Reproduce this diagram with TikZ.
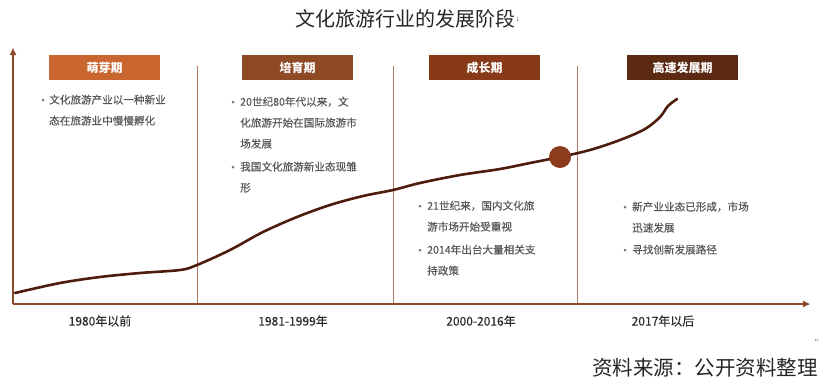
\documentclass[tikz,border=0pt]{standalone}
\usepackage{fontspec}
\usetikzlibrary{arrows.meta}
\newfontfamily\cjk{Noto Sans CJK SC}
\newfontfamily\cjkm{Noto Sans CJK SC}[FakeBold=0.4]
\newfontfamily\dejavu{DejaVu Sans}
\definecolor{axisc}{RGB}{140,72,40}
\definecolor{divc}{RGB}{178,122,92}
\definecolor{hA}{RGB}{201,102,48}
\definecolor{hB}{RGB}{142,74,36}
\definecolor{hC}{RGB}{136,58,24}
\definecolor{hD}{RGB}{92,42,18}
\definecolor{curvec}{RGB}{78,28,12}
\definecolor{dotc}{RGB}{140,60,28}
\definecolor{bodyc}{RGB}{88,88,88}
\definecolor{labc}{RGB}{45,45,45}
\begin{document}
\begin{tikzpicture}[x=1pt,y=-1pt,
  axisline/.style={draw=axisc,line width=2pt,-{Triangle[length=7pt,width=6pt]}},
  divline/.style={draw=divc,line width=1pt},
  hdr/.style={minimum width=111pt,minimum height=25pt,inner sep=0pt,text=white,font=\cjk\bfseries\fontsize{12}{14}\selectfont},
  body/.style={anchor=north west,inner sep=0pt,align=left,text=bodyc,font=\cjkm\fontsize{10.6}{21}\selectfont},
  bul/.style={circle,fill=bodyc!80,inner sep=0pt,minimum size=3pt},
  lab/.style={inner sep=0pt,text=labc,font=\cjkm\fontsize{12}{14}\selectfont},
  curve/.style={draw=curvec,line width=2.6pt,line cap=round,line join=round}]
\useasboundingbox (0,0) rectangle (822,384);
% title
\node[inner sep=0pt,font=\cjk\fontsize{20}{22}\selectfont,text=black!85] (title) at (405,19) {文化旅游行业的发展阶段};
\node[anchor=west,inner sep=0pt,font=\dejavu\fontsize{6}{7}\selectfont,text=black!50] (tmark) at (title.east) {↓};
% axes
\coordinate (o) at (13,304);
\coordinate (ytip) at (13,48);
\coordinate (xtip) at (810,304);
\draw[axisline] (o) -- (ytip);
\draw[axisline] (o) -- (xtip);
% dividers
\coordinate (d1t) at (197,66); \coordinate (d1b) at (197,303);
\coordinate (d2t) at (393,66); \coordinate (d2b) at (393,303);
\coordinate (d3t) at (577,66); \coordinate (d3b) at (577,303);
\draw[divline] (d1t) -- (d1b);
\draw[divline] (d2t) -- (d2b);
\draw[divline] (d3t) -- (d3b);
% headers
\node[hdr,fill=hA] (h1) at (104.5,67.5) {萌芽期};
\node[hdr,fill=hB] (h2) at (297.5,67.5) {培育期};
\node[hdr,fill=hC] (h3) at (484.5,67.5) {成长期};
\node[hdr,fill=hD] (h4) at (682.5,67.5) {高速发展期};
% curve
\draw[curve] plot[smooth,tension=0.55] coordinates {(15,293) (60,283) (100,277) (140,273) (180,270) (197,265) (230,250) (263,232) (297,217) (330,205) (363,196) (393,190) (420,183) (460,175) (500,169) (530,163) (560,157) (590,150) (620,140) (645,129) (660,117) (668,106) (677,99)};
\node[circle,fill=dotc,inner sep=0pt,minimum size=22pt] (milestone) at (560,157) {};
% bullets and texts
\node[bul] (b1) at (43,100) {};
\node[body] (t1) at (49,94.5) {文化旅游产业以一种新业\\态在旅游业中慢慢孵化};
\node[bul] (b2) at (233,102) {};
\node[body] (t2) at (240,96.5) {20世纪80年代以来，文\\化旅游开始在国际旅游市\\场发展};
\node[bul] (b3) at (233,167) {};
\node[body] (t3) at (240,161.5) {我国文化旅游新业态现雏\\形};
\node[bul] (b4) at (420,206) {};
\node[body] (t4) at (427,200.5) {21世纪来，国内文化旅\\游市场开始受重视};
\node[bul] (b5) at (420,250) {};
\node[body] (t5) at (427,244.5) {2014年出台大量相关支\\持政策};
\node[bul] (b6) at (625,207) {};
\node[body] (t6) at (632,201.5) {新产业业态已形成，市场\\迅速发展};
\node[bul] (b7) at (625,250) {};
\node[body] (t7) at (632,244.5) {寻找创新发展路径};
% axis labels
\node[lab] (l1) at (100,321) {1980年以前};
\node[lab] (l2) at (293,321) {1981-1999年};
\node[lab] (l3) at (481,321) {2000-2016年};
\node[lab] (l4) at (663,321) {2017年以后};
% marks and source
\node[inner sep=0pt,font=\dejavu\fontsize{6}{7}\selectfont,text=black!50] (pmark) at (817,341) {↵};
\node[anchor=east,inner sep=0pt,font=\cjk\fontsize{20.5}{22}\selectfont,text=black!85] (src) at (818,368) {资料来源：公开资料整理};
\end{tikzpicture}
\end{document}
